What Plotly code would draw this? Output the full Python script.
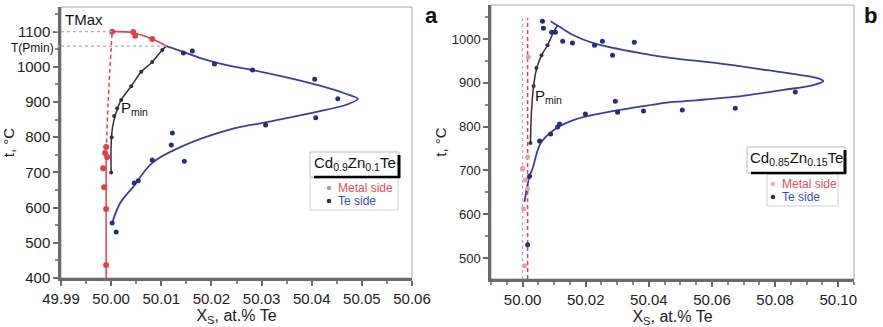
import plotly.graph_objects as go

# ---------------- Panel a : Cd0.9Zn0.1Te ----------------
a_metal_pts_x = [50.0002, 50.0044, 50.0048, 50.0082, 49.9984, 49.9986, 49.9990, 49.9990, 49.9990, 49.9988, 49.9992]
a_metal_pts_y = [1100, 1099, 1088, 1079, 712, 658, 596, 437, 772, 755, 744]
a_metal_top_x = [50.0002, 50.0044, 50.0082, 50.0110]
a_metal_top_y = [1100, 1097, 1079, 1059]
a_metal_vert_x = [49.9990, 49.9990]
a_metal_vert_y = [400, 745]
a_metal_dash_x = [49.9990, 49.9994, 50.0002]
a_metal_dash_y = [745, 900, 1100]

a_te_pts_x = [50.0144, 50.0162, 50.0206, 50.0282, 50.0406, 50.0452, 50.0408, 50.0308,
              50.0122, 50.0120, 50.0146, 50.0082, 50.0046, 50.0054, 50.0002, 50.0010]
a_te_pts_y = [1039, 1045, 1008, 991, 965, 909, 855, 835,
              812, 778, 732, 735, 670, 676, 556, 531]
a_te_curve_x = [50.0110, 50.0145, 50.0178, 50.0230, 50.0282, 50.0350, 50.0420, 50.0465, 50.0492,
                50.0470, 50.0410, 50.0310, 50.0238, 50.0138, 50.0082, 50.0044, 50.0018, 50.0002]
a_te_curve_y = [1059, 1042, 1025, 1005, 991, 970, 945, 925, 909,
                893, 872, 843, 822, 772, 727, 659, 613, 556]

a_pmin_x = [50.0000, 50.0000, 50.0003, 50.0010, 50.0020, 50.0040, 50.0060, 50.0082, 50.0102, 50.0110]
a_pmin_y = [700, 780, 830, 870, 906, 945, 986, 1014, 1048, 1059]
a_pmin_pts_x = [50.0000, 50.0001, 50.0006, 50.0012, 50.0020, 50.0040, 50.0060, 50.0082, 50.0102]
a_pmin_pts_y = [700, 800, 860, 882, 906, 945, 986, 1014, 1048]

a_tmax = 1100
a_tpmin = 1059
a_xticks = [49.99, 50.00, 50.01, 50.02, 50.03, 50.04, 50.05, 50.06]
a_yticks = [400, 500, 600, 700, 800, 900, 1000, 1100]

# ---------------- Panel b : Cd0.85Zn0.15Te ----------------
b_metal_pts_x = [50.0000, 50.0016, 50.0000, 50.0010, 50.0016, 50.0003, 50.0006, 50.0018]
b_metal_pts_y = [705, 731, 703, 678, 658, 612, 482, 959]
b_metal_line_x = [50.0016, 50.0016]
b_metal_line_y = [452, 1048]
b_ref_line_x = [50.0000, 50.0000]
b_ref_line_y = [452, 1048]

b_te_pts_x = [50.0063, 50.0066, 50.0092, 50.0104, 50.0127, 50.0158, 50.0228, 50.0253, 50.0285, 50.0354,
              50.0864, 50.0506, 50.0674,
              50.0054, 50.0089, 50.0111, 50.0117, 50.0199, 50.0294, 50.0301, 50.0383, 50.0022, 50.0016]
b_te_pts_y = [1041, 1025, 1016, 1016, 995, 991, 986, 995, 963, 993,
              879, 838, 842,
              767, 783, 799, 806, 829, 858, 833, 836, 687, 530]
b_te_upper_x = [50.0089, 50.0120, 50.0161, 50.0225, 50.0373, 50.0468, 50.0617, 50.0775, 50.0880, 50.0934, 50.0953,
                50.0921, 50.0826, 50.0668, 50.0509, 50.0468, 50.0405]
b_te_upper_y = [1041, 1027, 1009, 991, 968, 957, 945, 929, 918, 911, 904,
                895, 884, 868, 858, 856, 849]
b_te_lower_x = [50.0405, 50.0269, 50.0161, 50.0098, 50.0057, 50.0032, 50.0022, 50.0006]
b_te_lower_y = [849, 833, 815, 792, 762, 705, 687, 628]

b_pmin_x = [50.0025, 50.0028, 50.0035, 50.0045, 50.0060, 50.0079, 50.0098, 50.0110]
b_pmin_y = [763, 830, 893, 934, 963, 986, 1016, 1030]
b_pmin_pts_x = [50.0025, 50.0035, 50.0044, 50.0060, 50.0079, 50.0098]
b_pmin_pts_y = [763, 893, 934, 963, 986, 1016]

b_xticks = [50.00, 50.02, 50.04, 50.06, 50.08, 50.10]
b_yticks = [500, 600, 700, 800, 900, 1000]

legend_labels = ["Metal side", "Te side"]

RED = "#e0404c"
PINK = "#e8a0a8"
BLUE = "#3b3f9c"
NAVY = "#25307a"
DARK = "#333333"
FONT = "Liberation Sans, Arial, sans-serif"

fig = go.Figure()

def line(x, y, color, width=1.6, dash="solid", xa="x", ya="y", shape="spline"):
    fig.add_trace(go.Scatter(x=x, y=y, mode="lines", xaxis=xa, yaxis=ya, showlegend=False,
                             line=dict(color=color, width=width, dash=dash, shape=shape),
                             hoverinfo="skip"))

def pts(x, y, color, size=5, xa="x", ya="y", name=None):
    fig.add_trace(go.Scatter(x=x, y=y, mode="markers", xaxis=xa, yaxis=ya, showlegend=False,
                             name=name, marker=dict(color=color, size=size, line=dict(width=0))))

# ---- panel a traces
line(a_te_curve_x, a_te_curve_y, BLUE, 1.8)
line(a_pmin_x, a_pmin_y, DARK, 1.5)
line(a_metal_vert_x, a_metal_vert_y, RED, 1.5, shape="linear")
line(a_metal_dash_x, a_metal_dash_y, RED, 1.5, dash="4px,3px")
line(a_metal_top_x, a_metal_top_y, RED, 1.6)
pts(a_pmin_pts_x, a_pmin_pts_y, DARK, 4)
pts(a_metal_pts_x, a_metal_pts_y, RED, 6, name=legend_labels[0])
pts(a_te_pts_x, a_te_pts_y, NAVY, 5, name=legend_labels[1])

# ---- panel b traces
line(b_ref_line_x, b_ref_line_y, "#b0b0b0", 1.2, dash="dot", xa="x2", ya="y2", shape="linear")
line(b_metal_line_x, b_metal_line_y, RED, 1.5, dash="4px,3px", xa="x2", ya="y2", shape="linear")
line(b_te_upper_x, b_te_upper_y, BLUE, 1.8, xa="x2", ya="y2")
line(b_te_lower_x, b_te_lower_y, BLUE, 1.8, xa="x2", ya="y2")
line(b_pmin_x, b_pmin_y, DARK, 1.5, xa="x2", ya="y2")
pts(b_pmin_pts_x, b_pmin_pts_y, DARK, 4, xa="x2", ya="y2")
pts(b_metal_pts_x, b_metal_pts_y, PINK, 5, xa="x2", ya="y2", name=legend_labels[0])
pts(b_te_pts_x, b_te_pts_y, NAVY, 5, xa="x2", ya="y2", name=legend_labels[1])

axis_common = dict(showgrid=False, zeroline=False, showline=True, linecolor="#6a6a6a", linewidth=2.5,
                   ticks="outside", ticklen=5, tickcolor="#6a6a6a", tickwidth=1.5, automargin=False,
                   tickfont=dict(family=FONT, size=15, color="#222"))
xtitle = dict(text="X<sub>S</sub>, at.% Te", font=dict(family=FONT, size=16, color="#222"), standoff=4)
ytitle = dict(text="t, °C", font=dict(family=FONT, size=15, color="#222"), standoff=2)

fig.update_layout(
    width=883, height=327, margin=dict(l=0, r=0, t=0, b=0),
    paper_bgcolor="white", plot_bgcolor="white", showlegend=False,
    font=dict(family=FONT, color="#222"),
    xaxis=dict(domain=[61/883, 412/883], range=[49.99, 50.06], tickvals=a_xticks,
               ticktext=[f"{v:.2f}" for v in a_xticks], anchor="y", title=xtitle,
               minor=dict(dtick=0.005, tick0=49.99, ticks="outside", ticklen=3, tickcolor="#888"),
               **axis_common),
    yaxis=dict(domain=[49/327, 320/327], range=[400, 1170], tickvals=a_yticks, anchor="x", title=ytitle,
               minor=dict(dtick=50, tick0=400, ticks="outside", ticklen=3, tickcolor="#888"),
               **axis_common),
    xaxis2=dict(domain=[491/883, 854/883], range=[49.99, 50.105], tickvals=b_xticks,
                ticktext=[f"{v:.2f}" for v in b_xticks], anchor="y2", title=xtitle,
                minor=dict(dtick=0.005, tick0=49.99, ticks="outside", ticklen=3, tickcolor="#888"),
                **axis_common),
    yaxis2=dict(domain=[48/327, 322/327], range=[452, 1078], tickvals=b_yticks, anchor="x2", title=ytitle,
                minor=dict(dtick=50, tick0=450, ticks="outside", ticklen=3, tickcolor="#888"),
                **{**axis_common, "tickfont": dict(family=FONT, size=13, color="#222")}),
)

def px(x): return x / 883
def py(y): return 1 - y / 327

shapes = []
# frames (thin top/right)
for xa, ya in (("x", "y"), ("x2", "y2")):
    shapes.append(dict(type="rect", xref=f"{xa} domain", yref=f"{ya} domain", x0=0, x1=1, y0=0, y1=1,
                       line=dict(color="#a8a8a8", width=1), layer="below"))
# gray dotted reference lines panel a (start just left of the axis, as in the original)
shapes.append(dict(type="line", xref="paper", yref="y", x0=px(55), x1=px(61), y0=a_tmax, y1=a_tmax,
                   line=dict(color="#b0b0b0", width=1.2, dash="dot")))
shapes.append(dict(type="line", xref="x", yref="y", x0=49.99, x1=a_metal_top_x[0], y0=a_tmax, y1=a_tmax,
                   line=dict(color="#b0b0b0", width=1.2, dash="dot")))
shapes.append(dict(type="line", xref="paper", yref="y", x0=px(57), x1=px(61), y0=a_tpmin, y1=a_tpmin,
                   line=dict(color="#b0b0b0", width=1.2, dash="dot")))
shapes.append(dict(type="line", xref="x", yref="y", x0=49.99, x1=a_metal_top_x[-1], y0=a_tpmin, y1=a_tpmin,
                   line=dict(color="#b0b0b0", width=1.2, dash="dot")))

# legend title boxes with black shadow + legend item boxes
legend_boxes = [
    # title box, item box, marker x, first row y, metal marker colour
    ((310, 152, 399, 177), (310, 178, 398, 210), 329, 188, "#e0909a"),
    ((747, 147, 845, 173), (767, 174, 838, 206), 773, 184, "#e8b0b8"),
]
ann = []
def text(x, y, t, size=15, bold=False, xanchor="center", yanchor="middle", color="#111"):
    ann.append(dict(x=px(x), y=py(y), xref="paper", yref="paper", text=(f"<b>{t}</b>" if bold else t),
                    showarrow=False, xanchor=xanchor, yanchor=yanchor,
                    font=dict(family=FONT, size=size, color=color)))

for (tb, ib, mx, my, mcol) in legend_boxes:
    x0, y0, x1, y1 = ib
    shapes.append(dict(type="rect", xref="paper", yref="paper", x0=px(x0), x1=px(x1), y0=py(y1), y1=py(y0),
                       fillcolor="white", line=dict(color="#cfcfcf", width=1)))
    x0, y0, x1, y1 = tb
    shapes.append(dict(type="rect", xref="paper", yref="paper", x0=px(x0), x1=px(x1), y0=py(y1), y1=py(y0),
                       fillcolor="white", line=dict(color="#bbbbbb", width=1)))
    shapes.append(dict(type="line", xref="paper", yref="paper", x0=px(x1), x1=px(x1), y0=py(y1 + 1), y1=py(y0 + 3),
                       line=dict(color="black", width=3)))
    shapes.append(dict(type="line", xref="paper", yref="paper", x0=px(x0 + 4), x1=px(x1 + 1), y0=py(y1), y1=py(y1),
                       line=dict(color="black", width=2.5)))
    for k, (lab, col, tcol) in enumerate(zip(legend_labels, [mcol, NAVY], ["#e0505c", "#3a50b0"])):
        cy = my + 13 * k
        shapes.append(dict(type="circle", xref="paper", yref="paper", x0=px(mx - 2.3), x1=px(mx + 2.3),
                           y0=py(cy + 2.3), y1=py(cy - 2.3), fillcolor=col, line=dict(width=0)))
        text(mx + 7, cy, lab, 12, xanchor="left", color=tcol)

fig.update_layout(shapes=shapes)

text(63, 19, "TMax", 15, xanchor="left")
text(56, 48, "T(Pmin)", 12, xanchor="right")
text(119, 108, "P<sub>min</sub>", 15, xanchor="left")
text(533, 97, "P<sub>min</sub>", 15, xanchor="left")
text(355, 163, "Cd<sub>0.9</sub>Zn<sub>0.1</sub>Te", 15)
text(796, 158, "Cd<sub>0.85</sub>Zn<sub>0.15</sub>Te", 15)
text(431, 16, "a", 22, bold=True)
text(870, 16, "b", 22, bold=True)
fig.update_layout(annotations=ann)

fig.write_html("out.html")
